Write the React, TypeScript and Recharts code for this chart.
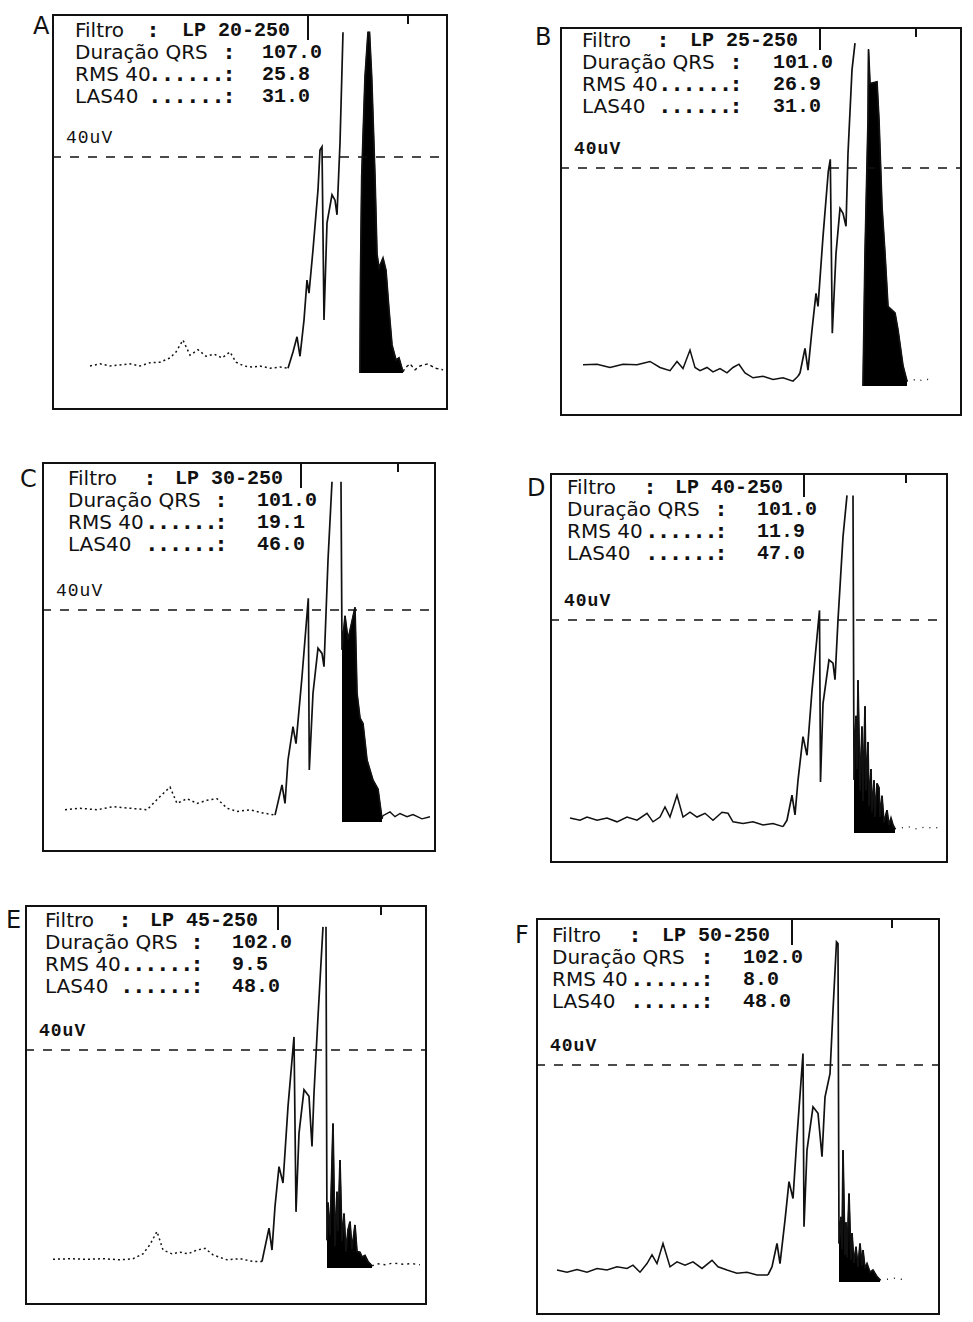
import { ComposedChart, Line, Area, XAxis, YAxis, ReferenceLine } from 'recharts';

// [t (ms, from the left edge of the frame), amplitude (uV)]; null = pen off the top
type Point = [number, number | null];

const panelLetters = ['A', 'B', 'C', 'D', 'E', 'F'];
const filterBands = ['LP 20-250', 'LP 25-250', 'LP 30-250', 'LP 40-250', 'LP 45-250', 'LP 50-250'];
const qrsDuration = ['107.0', '101.0', '101.0', '101.0', '102.0', '102.0'];
const rms40 = ['25.8', '26.9', '19.1', '11.9', '9.5', '8.0'];
const las40 = ['31.0', '31.0', '46.0', '47.0', '48.0', '48.0'];

const qrsOnset = [236, 238, 233, 233, 237, 232];
const lasStart = [308, 303, 300, 304, 302, 303];
const lasEnd = [351, 347, 340, 345, 347, 344];

const traceA: Point[] = [
  [38, 1.3], [48, 1.7], [58, 1.3], [68, 1.5], [78, 1.7], [88, 1.3], [98, 1.9], [108, 2.0],
  [118, 2.8], [124, 3.9], [131, 6.1], [138, 3.3], [146, 4.3], [154, 3.1], [162, 3.5], [170, 2.8],
  [178, 3.9], [184, 2.0], [192, 1.3], [200, 1.1], [208, 1.3], [218, 0.9], [228, 1.1], [236, 0.9],
  [241, 3.9], [245, 6.7], [248, 3.1], [252, 9.8], [255, 17.2], [257, 14.8], [261, 22.8], [266, 33.9],
  [268, 41.3], [270, 41.9], [272, 9.8], [275, 27.8], [280, 33.0], [283, 32.0], [285, 29.3], [288, 42.6],
  [291, 63.1], [292, null],
  [308, 0], [308.5, 17.8], [309.7, 36.3], [313, 54.8], [316, 63.1], [317.5, 63.1], [319.7, 54.8],
  [323, 36.3], [325, 22], [327, 19.5], [331, 21.3], [334, 19], [337, 11.7], [340, 5.2], [344, 2.4],
  [347, 2.8], [351, 0.2],
  [353, 0.9], [358, 1.7], [363, 0.6], [368, 1.3], [376, 1.7], [383, 0.9], [391, 0.6],
];

const traceB: Point[] = [
  [23, 3.9], [37, 4.0], [50, 3.4], [63, 4.0], [77, 3.9], [90, 4.5], [100, 3.4], [110, 2.8],
  [117, 4.5], [123, 3.2], [130, 6.6], [135, 3.4], [140, 2.8], [147, 3.4], [153, 2.6], [160, 3.2],
  [167, 2.4], [173, 3.4], [179, 4.0], [185, 2.4], [193, 1.5], [203, 1.8], [213, 1.2], [223, 1.5],
  [233, 0.9], [238, 1.8],
  [240, 2.4], [245, 6.9], [248, 2.9], [252, 10.3], [256, 17.0], [258, 14.6], [263, 27.4], [268.3, 39.4],
  [270.3, 41.6], [272.3, 9.7], [276, 24.3], [280, 32.6], [283, 31.7], [286, 29.3], [288, 42.7], [292, 58.0],
  [295, 62.9], [296, null],
  [303, 0], [305, 24.3], [308, 48.8], [308.5, 61.8], [310, 55.5], [317, 55.8], [319, 48.8], [322, 32.9],
  [325, 24.3], [328, 14.6], [335, 13.4], [338, 10.3], [343, 3.7], [347, 0.9],
  [353, 1.2], [358, 0.9], [365, 1.3], [373, 1.0],
];

const traceC: Point[] = [
  [23, 2.3], [38, 2.6], [55, 2.3], [71, 2.9], [88, 2.6], [105, 2.3], [118, 4.8], [128, 6.6],
  [135, 3.5], [145, 4.4], [155, 3.5], [165, 4.1], [175, 4.4], [185, 2.6], [195, 2.0], [208, 2.3],
  [221, 1.7], [233, 1.3],
  [235, 2.9], [240, 7.0], [243, 3.5], [246, 11.7], [251, 18.0], [254, 14.8], [260, 27.4], [266.3, 42.2],
  [267.3, 9.8], [271, 24.3], [276, 32.8], [280, 31.8], [282, 29.3], [286, 49.4], [290, 64.2], [291, null],
  [299, 64.2],
  [300, 32.5], [303, 38.9], [306, 34.4], [313, 40.5], [315, 24.3], [318, 19.6], [321, 18.6], [325, 11.7],
  [331, 7.9], [336, 6.2], [340, 0.6],
  [341, 1.2], [348, 1.9], [353, 1.0], [358, 1.6], [365, 1.0], [371, 1.4], [380, 0.6], [388, 1.0],
];

const traceD: Point[] = [
  [20, 2.8], [30, 2.4], [37, 3.0], [47, 2.4], [57, 2.8], [67, 2.1], [77, 3.0], [87, 2.4], [97, 3.7],
  [103, 2.1], [110, 3.0], [115, 4.9], [120, 3.0], [127, 7.1], [133, 3.0], [140, 3.9], [147, 3.0],
  [155, 3.7], [163, 2.4], [172, 3.9], [178, 3.7], [183, 2.1], [193, 1.8], [203, 2.1], [213, 1.5],
  [223, 1.8], [233, 1.2],
  [237, 2.4], [242, 7.1], [245, 3.4], [248, 9.9], [253, 18.1], [257, 14.6], [262, 26.8], [269.5, 41.8],
  [270.5, 9.6], [273, 24.3], [279, 32.5], [283, 31.9], [285, 28.8], [288, 40.0], [293, 55.6], [297, 63.4],
  [298, null], [303, 63.4],
  [304, 10], [306, 22], [307, 12], [308, 28.7], [310, 8], [312, 20], [313, 6], [315, 23.8], [316, 8],
  [318, 17.1], [319, 5], [321, 12], [322, 4], [324, 9.9], [325, 3], [327, 9.3], [329, 8.5], [330, 3],
  [332, 7], [334, 2], [337, 4.3], [339, 1.5], [341, 2.8], [343, 1.5], [345, 0.8],
  [350, 0.9], [358, 1.2], [366, 0.8], [375, 1.1], [384, 0.9], [393, 1.2],
];

const traceE: Point[] = [
  [28, 1.6], [45, 1.7], [62, 1.6], [78, 1.7], [95, 1.5], [108, 1.7], [118, 2.6], [125, 4.3],
  [132, 6.7], [138, 3.3], [147, 2.6], [155, 2.9], [163, 2.6], [172, 3.3], [180, 3.6], [188, 2.4],
  [202, 1.5], [215, 1.7], [228, 1.2], [237, 1.2],
  [238, 2.1], [244, 7.3], [247, 3.3], [250, 11.3], [254, 18.6], [258, 15.6], [263, 29.6], [269, 42.4],
  [271, 10.3], [274, 24.7], [279, 32.7], [284, 31.5], [287, 22.3], [289, 32.1], [293, 46.1], [298, 62.6],
  [299, null], [301, 62.6],
  [302, 5.1], [303, 12], [305, 6], [308, 26.5], [310, 4], [312, 14], [313, 6.8], [315, 19.8], [317, 4.9],
  [319, 10], [321, 3], [323, 7], [325, 8.5], [327, 3.5], [330, 7.9], [332, 3], [335, 2.9], [337, 2.0],
  [340, 2.3], [343, 1.2], [347, 0.4],
  [352, 0.8], [360, 0.6], [368, 0.9], [378, 0.7], [387, 0.8], [395, 0.6],
];

const traceF: Point[] = [
  [21, 2.2], [31, 1.8], [41, 2.3], [51, 1.8], [61, 2.5], [71, 2.2], [81, 2.8], [91, 2.5], [97, 3.1],
  [104, 1.8], [111, 3.4], [116, 5.0], [121, 3.4], [127, 7.1], [134, 2.8], [141, 3.7], [149, 3.1],
  [157, 3.7], [166, 2.5], [176, 4.0], [182, 2.8], [191, 2.2], [201, 1.6], [211, 1.8], [221, 1.3],
  [232, 1.3],
  [236, 2.8], [241, 7.1], [244, 3.4], [249, 11.4], [253, 18.5], [257, 15.4], [261, 26.8], [267, 42.1],
  [268, 10.2], [271, 24.3], [277, 32.3], [282, 31.1], [286, 23.1], [289, 34.1], [294, 38.4], [297, 50.1],
  [300.5, 62.7], [302, 62.4],
  [303, 7.1], [305, 12], [306, 6], [307, 24.3], [309, 5], [310, 11], [311, 4.5], [313, 16.3], [315, 4],
  [316, 9], [318, 3.5], [320, 6.5], [322, 2.8], [324, 7.1], [326, 3], [327, 5.9], [329, 2.5], [331, 3.4],
  [334, 1.8], [337, 2.2], [341, 1.0], [344, 0.4],
  [351, 0.5], [358, 0.7], [365, 0.5], [371, 0.6],
];

const traces = [traceA, traceB, traceC, traceD, traceE, traceF];

type Layout = {
  left: number; top: number; width: number; height: number;
  baseY: number; y40: number;
  textX: number; colon1X: number; lpX: number; colonX: number; valX: number; textTop: number;
  barX: number; letterX: number; letterY: number;
  noiseDash?: string; tailDash?: string; uvBold: boolean;
};

const layouts: Layout[] = [
  { left: 52, top: 14, width: 396, height: 396, baseY: 359, y40: 143, textX: 23, colon1X: 97, lpX: 130, colonX: 173, valX: 210, textTop: 5, barX: 255, letterX: 33, letterY: 14, noiseDash: '2 3', tailDash: '3 3', uvBold: false },
  { left: 560, top: 27, width: 402, height: 389, baseY: 359, y40: 141, textX: 22, colon1X: 99, lpX: 130, colonX: 172, valX: 213, textTop: 2, barX: 259, letterX: 535, letterY: 25, tailDash: '1 6', uvBold: true },
  { left: 42, top: 462, width: 394, height: 390, baseY: 360, y40: 148, textX: 26, colon1X: 104, lpX: 133, colonX: 175, valX: 215, textTop: 5, barX: 258, letterX: 20, letterY: 467, noiseDash: '2 3', uvBold: false },
  { left: 550, top: 473, width: 398, height: 390, baseY: 360, y40: 147, textX: 17, colon1X: 96, lpX: 125, colonX: 167, valX: 207, textTop: 3, barX: 253, letterX: 527, letterY: 476, tailDash: '1 6', uvBold: true },
  { left: 25, top: 905, width: 402, height: 400, baseY: 363, y40: 145, textX: 20, colon1X: 96, lpX: 125, colonX: 168, valX: 207, textTop: 4, barX: 252, letterX: 6, letterY: 908, noiseDash: '2 3', tailDash: '2 4', uvBold: true },
  { left: 536, top: 918, width: 404, height: 397, baseY: 364, y40: 147, textX: 16, colon1X: 95, lpX: 126, colonX: 167, valX: 207, textTop: 6, barX: 255, letterX: 515, letterY: 923, tailDash: '1 6', uvBold: true },
];

const sans = '"DejaVu Sans", sans-serif';
const mono = '"Liberation Mono", "DejaVu Sans Mono", monospace';
const ink = '#111';

const toRows = (trace: Point[], onset: number, start: number, end: number) =>
  trace.map(([t, v]) => ({
    t,
    pre: t <= onset ? v : null,
    main: t >= onset && t <= end ? v : null,
    post: t >= end ? v : null,
    las: t >= start && t <= end ? v : null,
  }));

function Panel({ i }: { i: number }) {
  const box = layouts[i];
  const rows = toRows(traces[i], qrsOnset[i], lasStart[i], lasEnd[i]);
  const pxPerUv = (box.baseY - box.y40) / 40;
  const yMax = box.baseY / pxPerUv;
  const yMin = -(box.height - box.baseY) / pxPerUv;
  const dotGap = (box.colonX - box.colon1X) / 6 - 7.6;

  const labelStyle = { position: 'absolute' as const, fontFamily: sans, fontSize: 20, lineHeight: '22px', whiteSpace: 'pre' as const, color: ink };
  const valueStyle = { position: 'absolute' as const, fontFamily: mono, fontWeight: 'bold' as const, fontSize: 20, lineHeight: '22px', whiteSpace: 'pre' as const, color: ink };

  const rowsText = [
    { label: 'Duração QRS', dots: false, value: qrsDuration[i] },
    { label: 'RMS 40', dots: true, value: rms40[i] },
    { label: 'LAS40', dots: true, value: las40[i] },
  ];

  return (
    <>
      <div style={{ position: 'absolute', left: box.letterX, top: box.letterY, fontFamily: sans, fontSize: 24, lineHeight: '24px', color: ink }}>
        {panelLetters[i]}
      </div>
      <div style={{ position: 'absolute', left: box.left, top: box.top, width: box.width, height: box.height }}>
        <ComposedChart width={box.width} height={box.height} data={rows} margin={{ top: 0, right: 0, bottom: 0, left: 0 }}>
          <XAxis dataKey="t" type="number" domain={[0, box.width]} hide allowDataOverflow />
          <YAxis type="number" domain={[yMin, yMax]} hide allowDataOverflow />
          <ReferenceLine y={40} stroke={ink} strokeWidth={1.3} strokeDasharray="9 9" />
          <Area
            type="linear"
            dataKey="las"
            baseValue={0}
            stroke="#000"
            strokeWidth={1}
            fill="#000"
            fillOpacity={1}
            isAnimationActive={false}
          />
          <Line type="linear" dataKey="pre" stroke={ink} strokeWidth={1.5} strokeDasharray={box.noiseDash} dot={false} isAnimationActive={false} />
          <Line type="linear" dataKey="main" stroke={ink} strokeWidth={1.7} dot={false} isAnimationActive={false} />
          <Line type="linear" dataKey="post" stroke={ink} strokeWidth={1.4} strokeDasharray={box.tailDash} dot={false} isAnimationActive={false} />
        </ComposedChart>
        <div style={{ position: 'absolute', inset: 0, border: `2px solid ${ink}`, boxSizing: 'border-box', pointerEvents: 'none' }} />
        <div style={{ position: 'absolute', left: box.barX, top: 0, width: 2, height: box.textTop + 21, background: ink }} />
        <div style={{ position: 'absolute', left: 355, top: 0, width: 2, height: 10, background: ink }} />

        <div style={{ ...labelStyle, left: box.textX, top: box.textTop }}>Filtro</div>
        <div style={{ ...labelStyle, left: box.colon1X, top: box.textTop, fontWeight: 'bold' }}>:</div>
        <div style={{ ...valueStyle, left: box.lpX, top: box.textTop + 1 }}>{filterBands[i]}</div>

        {rowsText.map((row, k) => {
          const top = box.textTop + 22 * (k + 1);
          return (
            <div key={row.label}>
              <div style={{ ...labelStyle, left: box.textX, top }}>{row.label}</div>
              {row.dots && (
                <div style={{ ...labelStyle, left: box.colon1X + 2, top, fontWeight: 'bold', letterSpacing: dotGap }}>......</div>
              )}
              <div style={{ ...labelStyle, left: box.colonX, top, fontWeight: 'bold' }}>:</div>
              <div style={{ ...valueStyle, left: box.valX, top: top + 1 }}>{row.value}</div>
            </div>
          );
        })}

        <div
          style={{
            position: 'absolute',
            left: 14,
            top: box.y40 - 30,
            fontFamily: mono,
            fontSize: 18,
            lineHeight: '22px',
            letterSpacing: 1,
            fontWeight: box.uvBold ? 'bold' : 'normal',
            color: ink,
          }}
        >
          40uV
        </div>
      </div>
    </>
  );
}

export default function App() {
  return (
    <div style={{ position: 'absolute', left: 0, top: 0, width: 973, height: 1322, background: '#fff', overflow: 'hidden' }}>
      {layouts.map((_, i) => (
        <Panel key={panelLetters[i]} i={i} />
      ))}
    </div>
  );
}
